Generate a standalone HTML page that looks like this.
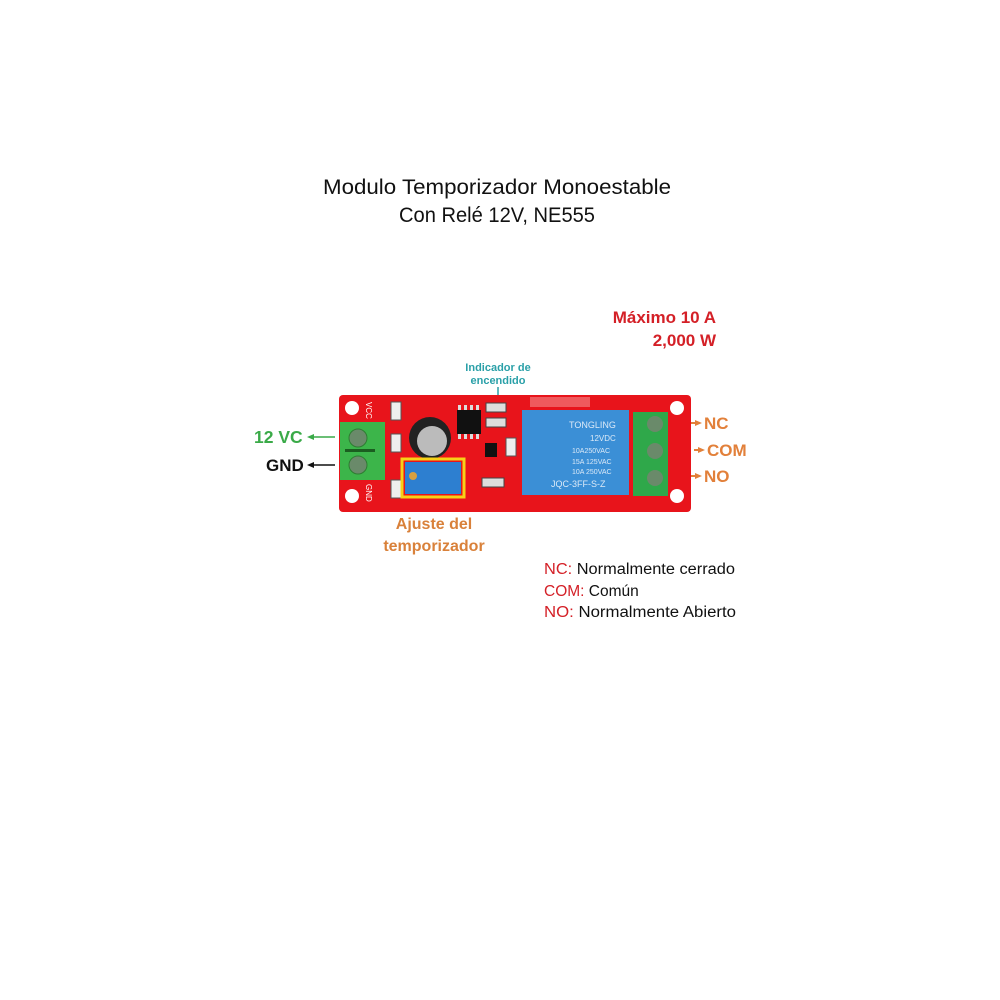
<!DOCTYPE html>
<html><head><meta charset="utf-8"><style>
html,body{margin:0;padding:0;background:#fff;}
svg{display:block}
</style></head><body>
<svg width="1000" height="1000" viewBox="0 0 1000 1000" xmlns="http://www.w3.org/2000/svg" font-family="Liberation Sans, DejaVu Sans, sans-serif">
<rect width="1000" height="1000" fill="#fff"/>
<text x="497" y="194" font-size="21.5" text-anchor="middle" fill="#111" textLength="348" lengthAdjust="spacingAndGlyphs">Modulo Temporizador Monoestable</text>
<text x="497" y="222" font-size="21.5" text-anchor="middle" fill="#111" textLength="196" lengthAdjust="spacingAndGlyphs">Con Relé 12V, NE555</text>
<text x="716" y="323" font-size="17" font-weight="bold" text-anchor="end" fill="#d42027">Máximo 10 A</text>
<text x="716" y="346" font-size="17" font-weight="bold" text-anchor="end" fill="#d42027">2,000 W</text>
<text x="498" y="371" font-size="11" font-weight="bold" text-anchor="middle" fill="#2aa0a8">Indicador de</text>
<text x="498" y="384" font-size="11" font-weight="bold" text-anchor="middle" fill="#2aa0a8">encendido</text>
<line x1="498" y1="387" x2="498" y2="400" stroke="#2aa0a8" stroke-width="1.5"/>
<!-- board -->
<rect x="339" y="395" width="352" height="117" rx="4" fill="#e8141b"/>
<circle cx="352" cy="408" r="7" fill="#fff"/><circle cx="352" cy="496" r="7" fill="#fff"/>
<circle cx="677" cy="408" r="7" fill="#fff"/><circle cx="677" cy="496" r="7" fill="#fff"/>
<text x="366" y="402" font-size="8" fill="#fff" transform="rotate(90 366 402)">VCC</text>
<text x="366" y="484" font-size="8" fill="#fff" transform="rotate(90 366 484)">GND</text>
<rect x="530" y="397" width="60" height="10" fill="#f5a0a0" opacity="0.5"/>
<!-- left terminal -->
<rect x="340" y="422" width="45" height="58" fill="#3cb54a"/>
<circle cx="358" cy="438" r="9" fill="#6a8a6a" stroke="#2e7d32"/>
<circle cx="358" cy="465" r="9" fill="#6a8a6a" stroke="#2e7d32"/>
<rect x="345" y="449" width="30" height="3" fill="#1b5e20"/>
<!-- components -->
<rect x="391" y="402" width="10" height="18" fill="#eee" stroke="#555"/>
<rect x="391" y="434" width="10" height="18" fill="#eee" stroke="#555"/>
<rect x="391" y="480" width="10" height="18" fill="#eee" stroke="#555"/>
<circle cx="430" cy="438" r="21" fill="#222"/><circle cx="432" cy="441" r="15" fill="#bbb"/>
<rect x="457" y="410" width="24" height="24" fill="#111"/>
<g fill="#ddd"><rect x="458" y="405" width="3" height="5"/><rect x="464" y="405" width="3" height="5"/><rect x="470" y="405" width="3" height="5"/><rect x="476" y="405" width="3" height="5"/><rect x="458" y="434" width="3" height="5"/><rect x="464" y="434" width="3" height="5"/><rect x="470" y="434" width="3" height="5"/><rect x="476" y="434" width="3" height="5"/></g>
<rect x="486" y="403" width="20" height="9" fill="#ddd" stroke="#444"/>
<rect x="486" y="418" width="20" height="9" fill="#ddd" stroke="#444"/>
<rect x="485" y="443" width="12" height="14" fill="#111"/>
<rect x="506" y="438" width="10" height="18" fill="#eee" stroke="#555"/>
<rect x="482" y="478" width="22" height="9" fill="#ddd" stroke="#444"/>
<!-- trimmer -->
<rect x="402" y="459" width="62" height="38" fill="none" stroke="#f7d117" stroke-width="3"/>
<rect x="405" y="462" width="56" height="32" fill="#2d7fd0"/>
<circle cx="413" cy="476" r="4" fill="#d8a040"/>
<!-- relay -->
<rect x="522" y="410" width="107" height="85" fill="#3b8fd6"/>
<text x="569" y="428" font-size="9" fill="#dbe9f7">TONGLING</text>
<text x="590" y="441" font-size="8" fill="#dbe9f7">12VDC</text>
<text x="572" y="453" font-size="7" fill="#dbe9f7">10A250VAC</text>
<text x="572" y="464" font-size="7" fill="#dbe9f7">15A 125VAC</text>
<text x="572" y="474" font-size="7" fill="#dbe9f7">10A 250VAC</text>
<text x="551" y="487" font-size="9" fill="#dbe9f7">JQC-3FF-S-Z</text>
<!-- right terminal -->
<rect x="633" y="412" width="35" height="84" fill="#2fa84a"/>
<circle cx="655" cy="424" r="8" fill="#6a8a6a"/><circle cx="655" cy="451" r="8" fill="#6a8a6a"/><circle cx="655" cy="478" r="8" fill="#6a8a6a"/>
<!-- arrows and labels -->
<text x="254" y="443" font-size="17.5" font-weight="bold" fill="#3aaa48">12 VC</text>
<line x1="310" y1="437" x2="335" y2="437" stroke="#3aaa48" stroke-width="1.5"/><polygon points="307,437 314,434 314,440" fill="#3aaa48"/>
<text x="266" y="471" font-size="17" font-weight="bold" fill="#111">GND</text>
<line x1="310" y1="465" x2="335" y2="465" stroke="#111" stroke-width="1.5"/><polygon points="307,465 314,462 314,468" fill="#111"/>
<g fill="#e2803a" font-size="17" font-weight="bold">
<rect x="691" y="422" width="4" height="2"/><polygon points="702,423 695,420 695,426"/><text x="704" y="429">NC</text>
<rect x="694" y="449" width="4" height="2"/><polygon points="705,450 698,447 698,453"/><text x="707" y="456">COM</text>
<rect x="691" y="475" width="4" height="2"/><polygon points="702,476 695,473 695,479"/><text x="704" y="482">NO</text>
</g>
<text x="434" y="529" font-size="16" font-weight="bold" text-anchor="middle" fill="#d9813a">Ajuste del</text>
<text x="434" y="551" font-size="16" font-weight="bold" text-anchor="middle" fill="#d9813a">temporizador</text>
<g font-size="15.5">
<text x="544" y="574" textLength="191" lengthAdjust="spacingAndGlyphs"><tspan fill="#d42027">NC:</tspan><tspan fill="#111"> Normalmente cerrado</tspan></text>
<text x="544" y="596"><tspan fill="#d42027">COM:</tspan><tspan fill="#111"> Común</tspan></text>
<text x="544" y="617" textLength="192" lengthAdjust="spacingAndGlyphs"><tspan fill="#d42027">NO:</tspan><tspan fill="#111"> Normalmente Abierto</tspan></text>
</g>
</svg>
</body></html>
